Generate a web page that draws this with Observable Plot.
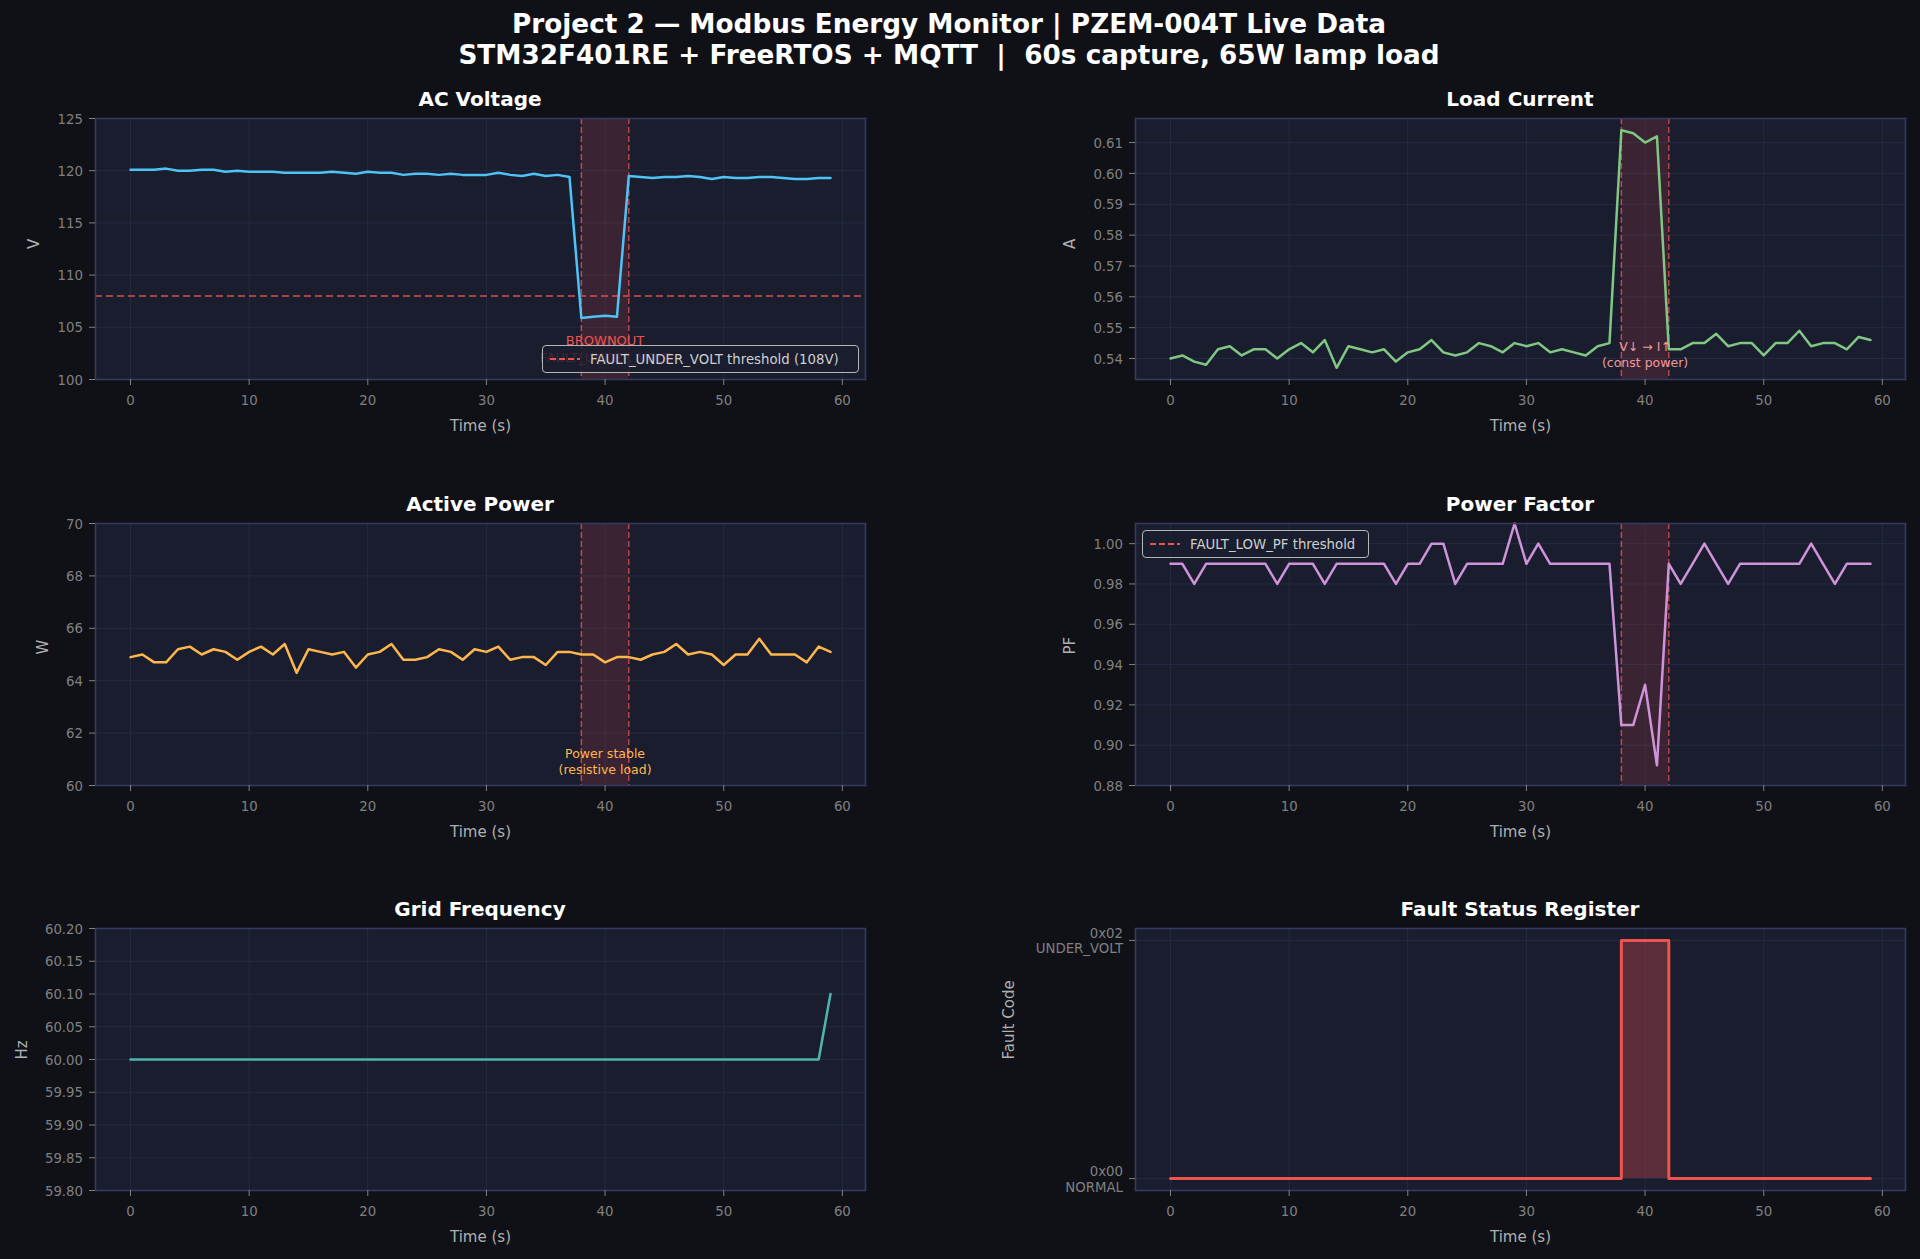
<!DOCTYPE html>
<html><head><meta charset="utf-8">
<script src="https://cdn.jsdelivr.net/npm/d3@7"></script>
<script src="https://cdn.jsdelivr.net/npm/@observablehq/plot@0.6"></script>
<style>
html,body{margin:0;padding:0;background:#0f1117;}
#root{position:relative;width:1920px;height:1259px;background:#0f1117;overflow:hidden;font-family:"DejaVu Sans",sans-serif;}
.sup{position:absolute;left:-11px;width:1920px;text-align:center;color:#fff;font-weight:bold;font-size:26.3px;line-height:30px;white-space:pre;}
.ttl{position:absolute;color:#fff;font-weight:bold;font-size:20px;line-height:24px;transform:translate(-50%,-50%);white-space:nowrap;}
.panel{position:absolute;}
.legend{position:absolute;box-sizing:border-box;background:rgba(26,29,46,0.82);border:1.5px solid #b5b5b5;border-radius:4px;color:#cfcfcf;font-size:13.3px;display:flex;align-items:center;padding:0 6px;white-space:nowrap;}
.legend svg{margin-right:9px;}
</style></head>
<body>
<div id="root">
  <div class="sup" style="top:9px">Project 2 — Modbus Energy Monitor | PZEM-004T Live Data</div>
  <div class="sup" style="top:40px">STM32F401RE + FreeRTOS + MQTT  |  60s capture, 65W lamp load</div>
</div>
<script>
// ---------- data ----------
const seconds = [0,1,2,3,4,5,6,7,8,9,10,11,12,13,14,15,16,17,18,19,20,21,22,23,24,25,26,27,28,29,
  30,31,32,33,34,35,36,37,38,39,40,41,42,43,44,45,46,47,48,49,50,51,52,53,54,55,56,57,58,59];
const voltage = [120.1,120.1,120.1,120.2,120.0,120.0,120.1,120.1,119.9,120.0,
  119.9,119.9,119.9,119.8,119.8,119.8,119.8,119.9,119.8,119.7,
  119.9,119.8,119.8,119.6,119.7,119.7,119.6,119.7,119.6,119.6,
  119.6,119.8,119.6,119.5,119.7,119.5,119.6,119.4,105.9,106.0,
  106.1,106.0,119.5,119.4,119.3,119.4,119.4,119.5,119.4,119.2,
  119.4,119.3,119.3,119.4,119.4,119.3,119.2,119.2,119.3,119.3];
const current = [0.540,0.541,0.539,0.538,0.543,0.544,0.541,0.543,0.543,0.540,
  0.543,0.545,0.542,0.546,0.537,0.544,0.543,0.542,0.543,0.539,
  0.542,0.543,0.546,0.542,0.541,0.542,0.545,0.544,0.542,0.545,
  0.544,0.545,0.542,0.543,0.542,0.541,0.544,0.545,0.614,0.613,
  0.610,0.612,0.543,0.543,0.545,0.545,0.548,0.544,0.545,0.545,
  0.541,0.545,0.545,0.549,0.544,0.545,0.545,0.543,0.547,0.546];
const power = [64.9,65.0,64.7,64.7,65.2,65.3,65.0,65.2,65.1,64.8,
  65.1,65.3,65.0,65.4,64.3,65.2,65.1,65.0,65.1,64.5,
  65.0,65.1,65.4,64.8,64.8,64.9,65.2,65.1,64.8,65.2,
  65.1,65.3,64.8,64.9,64.9,64.6,65.1,65.1,65.0,65.0,
  64.7,64.9,64.9,64.8,65.0,65.1,65.4,65.0,65.1,65.0,
  64.6,65.0,65.0,65.6,65.0,65.0,65.0,64.7,65.3,65.1];
const powerFactor = [0.99,0.99,0.98,0.99,0.99,0.99,0.99,0.99,0.99,0.98,
  0.99,0.99,0.99,0.98,0.99,0.99,0.99,0.99,0.99,0.98,
  0.99,0.99,1.00,1.00,0.98,0.99,0.99,0.99,0.99,1.01,
  0.99,1.00,0.99,0.99,0.99,0.99,0.99,0.99,0.91,0.91,
  0.93,0.89,0.99,0.98,0.99,1.00,0.99,0.98,0.99,0.99,
  0.99,0.99,0.99,0.99,1.00,0.99,0.98,0.99,0.99,0.99];
const frequency = [60.00,60.00,60.00,60.00,60.00,60.00,60.00,60.00,60.00,60.00,
  60.00,60.00,60.00,60.00,60.00,60.00,60.00,60.00,60.00,60.00,
  60.00,60.00,60.00,60.00,60.00,60.00,60.00,60.00,60.00,60.00,
  60.00,60.00,60.00,60.00,60.00,60.00,60.00,60.00,60.00,60.00,
  60.00,60.00,60.00,60.00,60.00,60.00,60.00,60.00,60.00,60.00,
  60.00,60.00,60.00,60.00,60.00,60.00,60.00,60.00,60.00,60.10];
const faultCode = [0,0,0,0,0,0,0,0,0,0, 0,0,0,0,0,0,0,0,0,0, 0,0,0,0,0,0,0,0,0,0,
  0,0,0,0,0,0,0,0,2,2, 2,2,0,0,0,0,0,0,0,0, 0,0,0,0,0,0,0,0,0,0];
const faultWindow = [38, 42];
const underVoltThreshold = 108;
const xTicks = [0,10,20,30,40,50,60];
const voltTicks = [100,105,110,115,120,125];
const currentTicks = [0.54,0.55,0.56,0.57,0.58,0.59,0.60,0.61];
const powerTicks = [60,62,64,66,68,70];
const pfTicks = [0.88,0.90,0.92,0.94,0.96,0.98,1.00];
const freqTicks = [59.80,59.85,59.90,59.95,60.00,60.05,60.10,60.15,60.20];
const faultTicks = [0,2];
const faultTickLabels = {0:"0x00\nNORMAL", 2:"0x02\nUNDER_VOLT"};

// ---------- layout ----------
const xDomain = [-2.95, 61.95];
const cols = [{x0:95,x1:865,ml:100},{x0:1135,x1:1905,ml:140}];
const rows = [{y0:118,y1:379},{y0:523,y1:785},{y0:928,y1:1190}];
const RED = "#ef5350";
const root = document.getElementById("root");

function rows_(ys){ return seconds.map((t,i)=>({t, v: ys[i]})); }

function panel({col,row,title,ylabel,labelDx,yDomain,yTicks,yFmt,marks}) {
  const c = cols[col], r = rows[row];
  const mt = 12, mb = 66, mr = 14;
  const w = c.x1 - c.x0, h = r.y1 - r.y0;
  const svg = Plot.plot({
    width: c.ml + w + mr, height: mt + h + mb,
    marginLeft: c.ml, marginRight: mr, marginTop: mt, marginBottom: mb,
    style: {background: "transparent", fontFamily: "DejaVu Sans, sans-serif", fontSize: "13.3px", overflow: "visible"},
    x: {domain: xDomain},
    y: {domain: yDomain},
    marks: [
      Plot.frame({fill: "#1a1d2e", stroke: "none"}),
      Plot.gridX(xTicks, {stroke: "#252a42", strokeOpacity: 1}),
      Plot.gridY(yTicks, {stroke: "#252a42", strokeOpacity: 1}),
      ...marks,
      Plot.frame({stroke: "#353a5e", strokeWidth: 1.6, fill: "none"}),
      Plot.axisX(xTicks, {tickSize: 6, tickPadding: 10, color: "#808080", fontSize: 13.3, label: null}),
      Plot.axisY(yTicks, {tickSize: 6, tickPadding: 6.5, color: "#808080", fontSize: 13.3, lineHeight: 1.2, label: null, tickFormat: yFmt}),
      Plot.text(["Time (s)"], {text: d => d, frameAnchor: "bottom", dy: 51, fill: "#b0b0b0", fontSize: 15}),
      Plot.text([ylabel], {text: d => d, frameAnchor: "left", dx: -labelDx, rotate: -90, fill: "#b0b0b0", fontSize: 15})
    ]
  });
  const holder = document.createElement("div");
  holder.className = "panel";
  holder.style.left = (c.x0 - c.ml) + "px";
  holder.style.top = (r.y0 - mt) + "px";
  holder.appendChild(svg);
  root.appendChild(holder);
  const t = document.createElement("div");
  t.className = "ttl";
  t.textContent = title;
  t.style.left = ((c.x0 + c.x1) / 2) + "px";
  t.style.top = (r.y0 - 19) + "px";
  root.appendChild(t);
}

function faultSpan() {
  return [
    Plot.rect([{a: faultWindow[0], b: faultWindow[1]}], {x1: "a", x2: "b", fill: RED, fillOpacity: 0.15}),
    Plot.ruleX(faultWindow, {stroke: RED, strokeOpacity: 0.75, strokeWidth: 1.5, strokeDasharray: "6,3"})
  ];
}

function legend(left, top, width, label) {
  const d = document.createElement("div");
  d.className = "legend";
  d.style.left = left + "px"; d.style.top = top + "px";
  d.style.width = width + "px"; d.style.height = "28px";
  d.innerHTML = `<svg width="32" height="10"><line x1="1" x2="31" y1="5" y2="5" stroke="${RED}" stroke-width="1.8" stroke-dasharray="6,3"/></svg><span>${label}</span>`;
  root.appendChild(d);
}

const fmt2 = d3.format(".2f");

// AC Voltage
panel({col:0,row:0,title:"AC Voltage",ylabel:"V",labelDx:61,yDomain:[100,125],yTicks:voltTicks,yFmt:d=>String(d),
  marks:[
    ...faultSpan(),
    Plot.ruleY([underVoltThreshold], {stroke: RED, strokeWidth: 1.7, strokeDasharray: "7,4", strokeOpacity: 0.9}),
    Plot.line(rows_(voltage), {x: "t", y: "v", stroke: "#4fc3f7", strokeWidth: 2.5}),
    Plot.text([{x: 40, y: 103.0, s: "BROWNOUT\nFAULT_UNDER_VOLT"}], {x: "x", y: "y", text: "s", fill: RED, fontSize: 13, lineHeight: 1.3})
  ]});
legend(542, 345, 317, "FAULT_UNDER_VOLT threshold (108V)");

// Load Current
panel({col:1,row:0,title:"Load Current",ylabel:"A",labelDx:65,yDomain:[0.5332,0.6178],yTicks:currentTicks,yFmt:fmt2,
  marks:[
    ...faultSpan(),
    Plot.line(rows_(current), {x: "t", y: "v", stroke: "#81c784", strokeWidth: 2.5}),
    Plot.text([{x: 40, y: 0.5416, s: "V↓ → I↑\n(const power)"}], {x: "x", y: "y", text: "s", fill: "#ef9a9a", fontSize: 12.5, lineHeight: 1.35})
  ]});

// Active Power
panel({col:0,row:1,title:"Active Power",ylabel:"W",labelDx:52,yDomain:[60,70],yTicks:powerTicks,yFmt:d=>String(d),
  marks:[
    ...faultSpan(),
    Plot.line(rows_(power), {x: "t", y: "v", stroke: "#ffb74d", strokeWidth: 2.5}),
    Plot.text([{x: 40, y: 60.95, s: "Power stable\n(resistive load)"}], {x: "x", y: "y", text: "s", fill: "#ffb74d", fontSize: 12.5, lineHeight: 1.35})
  ]});

// Power Factor
panel({col:1,row:1,title:"Power Factor",ylabel:"PF",labelDx:65,yDomain:[0.88,1.01],yTicks:pfTicks,yFmt:fmt2,
  marks:[
    ...faultSpan(),
    Plot.line(rows_(powerFactor), {x: "t", y: "v", stroke: "#ce93d8", strokeWidth: 2.5})
  ]});
legend(1142, 530, 227, "FAULT_LOW_PF threshold");

// Grid Frequency
panel({col:0,row:2,title:"Grid Frequency",ylabel:"Hz",labelDx:73,yDomain:[59.8,60.2],yTicks:freqTicks,yFmt:fmt2,
  marks:[
    Plot.line(rows_(frequency), {x: "t", y: "v", stroke: "#4db6ac", strokeWidth: 2.5})
  ]});

// Fault Status Register
panel({col:1,row:2,title:"Fault Status Register",ylabel:"Fault Code",labelDx:126,yDomain:[-0.1,2.1],yTicks:faultTicks,yFmt:d=>faultTickLabels[d],
  marks:[
    Plot.areaY(rows_(faultCode), {x: "t", y: "v", curve: "step-after", fill: RED, fillOpacity: 0.3}),
    Plot.line(rows_(faultCode), {x: "t", y: "v", curve: "step-after", stroke: RED, strokeWidth: 3})
  ]});
</script>
</body></html>
